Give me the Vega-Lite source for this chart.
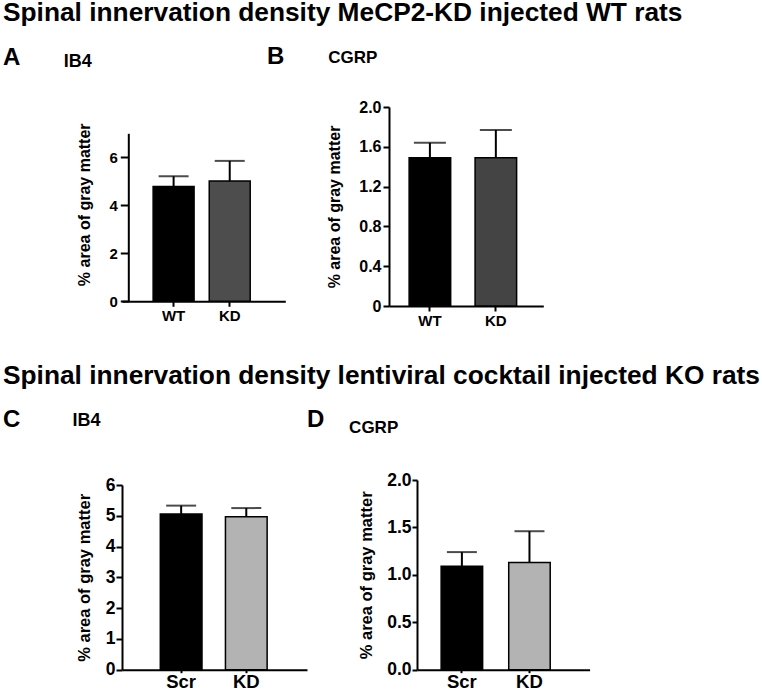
{
  "$schema": "https://vega.github.io/schema/vega-lite/v6.json",
  "padding": {"left": 3, "top": 0, "right": 0, "bottom": 0},
  "spacing": 35,
  "resolve": {"scale": {"color": "independent"}},
  "vconcat": [
    {
      "title": {"text": "Spinal innervation density MeCP2-KD injected WT rats", "anchor": "start", "fontSize": 26.3, "dy": -14},
      "spacing": 103,
      "bounds": "flush",
      "resolve": {"scale": {"color": "independent"}},
      "hconcat": [
        {
          "width": 163.3, "height": 194.3,
          "title": {"text": "A", "anchor": "start", "frame": "group", "fontSize": 24, "dx": -119, "dy": 37, "baseline": "alphabetic", "offset": 0},
          "data": {"values": [
            {"group": "WT", "mean": 4.78, "upper": 5.21},
            {"group": "KD", "mean": 5.01, "upper": 5.85}
          ]},
          "resolve": {"axis": {"x": "independent"}},
          "layer": [
            {"mark": {"type": "bar", "stroke": "black", "strokeWidth": 1.5},
             "encoding": {
               "x": {"field": "group", "type": "nominal", "sort": null, "scale": {"paddingInner": 0.27, "paddingOuter": 0.59, "align": 0.47}, "axis": {"orient": "bottom", "title": null, "labelAngle": 0, "labelFontSize": 15, "tickSize": 5, "labelPadding": 2}},
               "y": {"field": "mean", "type": "quantitative", "scale": {"domain": [0, 7], "range": [194.3, 26.3], "nice": false}, "axis": {"title": "% area of gray matter", "values": [0, 2, 4, 6], "tickCount": 20, "format": "d", "labelOverlap": false, "offset": -6.3, "tickSize": 8, "labelPadding": 3, "labelFontSize": 15, "titleFontSize": 16, "titlePadding": 16, "titleY": 97.3}},
               "color": {"field": "group", "type": "nominal", "scale": {"domain": ["WT", "KD"], "range": ["#000000", "#4d4d4d"]}, "legend": null}
             }},
            {"mark": {"type": "rule", "color": "black", "strokeWidth": 2},
             "encoding": {
               "x": {"field": "group", "type": "nominal", "sort": null, "axis": {"orient": "top", "title": "IB4", "labels": false, "ticks": false, "domain": false, "titleX": -58.7, "titleY": -41, "titleAlign": "left", "titleBaseline": "alphabetic", "titleFontSize": 18, "titleAngle": 0}},
               "y": {"field": "mean", "type": "quantitative"},
               "y2": {"field": "upper"}
             }},
            {"mark": {"type": "tick", "color": "black", "thickness": 2, "size": 30},
             "encoding": {
               "x": {"field": "group", "type": "nominal", "sort": null, "axis": null},
               "y": {"field": "upper", "type": "quantitative"}
             }}
          ]
        },
        {
          "width": 154.3, "height": 199,
          "title": {"text": "B", "anchor": "start", "frame": "group", "fontSize": 24, "dx": -122, "dy": 39, "baseline": "alphabetic", "offset": 0},
          "data": {"values": [
            {"group": "WT", "mean": 1.49, "upper": 1.64},
            {"group": "KD", "mean": 1.49, "upper": 1.77}
          ]},
          "resolve": {"axis": {"x": "independent"}},
          "layer": [
            {"mark": {"type": "bar", "stroke": "black", "strokeWidth": 1.5},
             "encoding": {
               "x": {"field": "group", "type": "nominal", "sort": null, "scale": {"paddingInner": 0.37, "paddingOuter": 0.355, "align": 0.43}, "axis": {"orient": "bottom", "title": null, "labelAngle": 0, "labelFontSize": 15, "tickSize": 5, "labelPadding": 2}},
               "y": {"field": "mean", "type": "quantitative", "scale": {"domain": [0, 2], "nice": false}, "axis": {"title": "% area of gray matter", "values": [0, 0.4, 0.8, 1.2, 1.6, 2.0], "tickCount": 20, "labelOverlap": false, "labelExpr": "datum.value == 0 ? '0' : format(datum.value, '.1f')", "tickSize": 6, "labelPadding": 2, "labelFontSize": 16, "titleFontSize": 16, "titlePadding": 16}},
               "color": {"field": "group", "type": "nominal", "scale": {"domain": ["WT", "KD"], "range": ["#000000", "#444444"]}, "legend": null}
             }},
            {"mark": {"type": "rule", "color": "black", "strokeWidth": 2},
             "encoding": {
               "x": {"field": "group", "type": "nominal", "sort": null, "axis": {"orient": "top", "title": "CGRP", "labels": false, "ticks": false, "domain": false, "titleX": -61.3, "titleY": -44.4, "titleAlign": "left", "titleBaseline": "alphabetic", "titleFontSize": 17, "titleAngle": 0}},
               "y": {"field": "mean", "type": "quantitative"},
               "y2": {"field": "upper"}
             }},
            {"mark": {"type": "tick", "color": "black", "thickness": 2, "size": 32},
             "encoding": {
               "x": {"field": "group", "type": "nominal", "sort": null, "axis": null},
               "y": {"field": "upper", "type": "quantitative"}
             }}
          ]
        }
      ]
    },
    {
      "title": {"text": "Spinal innervation density lentiviral cocktail injected KO rats", "anchor": "start", "fontSize": 26.3, "dy": -14.5},
      "spacing": 110,
      "bounds": "flush",
      "resolve": {"scale": {"color": "independent"}},
      "hconcat": [
        {
          "width": 185, "height": 189.7,
          "title": {"text": "C", "anchor": "start", "frame": "group", "fontSize": 24, "dx": -119, "dy": 40, "baseline": "alphabetic", "offset": 0},
          "data": {"values": [
            {"group": "Scr", "mean": 5.06, "upper": 5.33},
            {"group": "KD", "mean": 4.97, "upper": 5.25}
          ]},
          "resolve": {"axis": {"x": "independent"}},
          "layer": [
            {"mark": {"type": "bar", "stroke": "black", "strokeWidth": 1.5},
             "encoding": {
               "x": {"field": "group", "type": "nominal", "sort": null, "scale": {"paddingInner": 0.36, "paddingOuter": 0.6, "align": 0.49}, "axis": {"orient": "bottom", "title": null, "labelAngle": 0, "labelFontSize": 18.5, "tickSize": 3, "labelPadding": 0}},
               "y": {"field": "mean", "type": "quantitative", "scale": {"domain": [0, 6], "range": [189.7, 5], "nice": false}, "axis": {"title": "% area of gray matter", "values": [0, 1, 2, 3, 4, 5, 6], "tickCount": 20, "format": "d", "labelOverlap": false, "tickSize": 6, "labelPadding": 1, "labelFontSize": 17.5, "titleFontSize": 16.5, "titlePadding": 13}},
               "color": {"field": "group", "type": "nominal", "scale": {"domain": ["Scr", "KD"], "range": ["#000000", "#b3b3b3"]}, "legend": null}
             }},
            {"mark": {"type": "rule", "color": "black", "strokeWidth": 2},
             "encoding": {
               "x": {"field": "group", "type": "nominal", "sort": null, "axis": {"orient": "top", "title": "IB4", "labels": false, "ticks": false, "domain": false, "titleX": -50, "titleY": -55, "titleAlign": "left", "titleBaseline": "alphabetic", "titleFontSize": 18, "titleAngle": 0}},
               "y": {"field": "mean", "type": "quantitative"},
               "y2": {"field": "upper"}
             }},
            {"mark": {"type": "tick", "color": "black", "thickness": 2, "size": 30},
             "encoding": {
               "x": {"field": "group", "type": "nominal", "sort": null, "axis": null},
               "y": {"field": "upper", "type": "quantitative"}
             }}
          ]
        },
        {
          "width": 172.6, "height": 189.7,
          "title": {"text": "D", "anchor": "start", "frame": "group", "fontSize": 24, "dx": -110, "dy": 33, "baseline": "alphabetic", "offset": 0},
          "data": {"values": [
            {"group": "Scr", "mean": 1.09, "upper": 1.24},
            {"group": "KD", "mean": 1.13, "upper": 1.46}
          ]},
          "resolve": {"axis": {"x": "independent"}},
          "layer": [
            {"mark": {"type": "bar", "stroke": "black", "strokeWidth": 1.5},
             "encoding": {
               "x": {"field": "group", "type": "nominal", "sort": null, "scale": {"paddingInner": 0.386, "paddingOuter": 0.47, "align": 0.38}, "axis": {"orient": "bottom", "title": null, "labelAngle": 0, "labelFontSize": 18.5, "tickSize": 3, "labelPadding": 0}},
               "y": {"field": "mean", "type": "quantitative", "scale": {"domain": [0, 2], "nice": false}, "axis": {"title": "% area of gray matter", "values": [0, 0.5, 1.0, 1.5, 2.0], "tickCount": 20, "labelOverlap": false, "format": ".1f", "tickSize": 5, "labelPadding": 1, "labelFontSize": 17.5, "titleFontSize": 16.5, "titlePadding": 12}},
               "color": {"field": "group", "type": "nominal", "scale": {"domain": ["Scr", "KD"], "range": ["#000000", "#b3b3b3"]}, "legend": null}
             }},
            {"mark": {"type": "rule", "color": "black", "strokeWidth": 2},
             "encoding": {
               "x": {"field": "group", "type": "nominal", "sort": null, "axis": {"orient": "top", "title": "CGRP", "labels": false, "ticks": false, "domain": false, "titleX": -68.4, "titleY": -47.7, "titleAlign": "left", "titleBaseline": "alphabetic", "titleFontSize": 17, "titleAngle": 0}},
               "y": {"field": "mean", "type": "quantitative"},
               "y2": {"field": "upper"}
             }},
            {"mark": {"type": "tick", "color": "black", "thickness": 2, "size": 30},
             "encoding": {
               "x": {"field": "group", "type": "nominal", "sort": null, "axis": null},
               "y": {"field": "upper", "type": "quantitative"}
             }}
          ]
        }
      ]
    }
  ],
  "config": {
    "view": {"stroke": null},
    "font": "Liberation Sans",
    "axis": {"domainColor": "black", "domainWidth": 2, "tickColor": "black", "tickWidth": 2, "labelColor": "black", "labelFontWeight": "bold", "titleColor": "black", "titleFontWeight": "bold", "grid": false, "labelFont": "Liberation Sans", "titleFont": "Liberation Sans"},
    "title": {"color": "black", "fontWeight": "bold", "font": "Liberation Sans"}
  }
}
